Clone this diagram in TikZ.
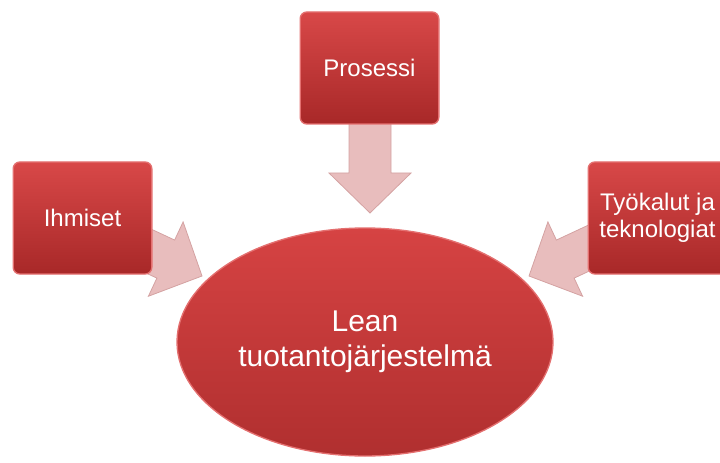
\documentclass[tikz,border=0pt]{standalone}
\usepackage{fontspec}
\setmainfont{Liberation Sans}
\usepackage{xcolor}
\usepackage{tikz}
\usetikzlibrary{calc,shapes.geometric}
\definecolor{boxtop}{HTML}{D84848}
\definecolor{boxbot}{HTML}{A82828}
\definecolor{boxrim}{HTML}{E47070}
\definecolor{elltop}{HTML}{D64343}
\definecolor{ellbot}{HTML}{B02F2F}
\definecolor{arrfill}{HTML}{E8BDBD}
\definecolor{arrline}{HTML}{D4A2A2}
\tikzset{
  topic/.style={draw=boxrim, line width=1pt, rounded corners=5pt,
    top color=boxtop, bottom color=boxbot,
    minimum width=104pt, minimum height=84pt, inner sep=2pt,
    text=white, align=center, font=\fontsize{18}{20}\selectfont},
  core/.style={ellipse, draw=boxrim, line width=1pt,
    top color=elltop, bottom color=ellbot,
    minimum width=282pt, minimum height=171pt,
    text=white, align=center, font=\fontsize{22.5}{26}\selectfont},
  blockarr/.style={fill=arrfill, draw=arrline, line width=0.6pt, line join=miter},
}
% block arrow from #1 to #2
\newcommand{\blockarrow}[2]{%
  \coordinate (ba-h) at ($(#2)!30pt!(#1)$);
  \draw[blockarr] ($(#1)!15.75pt!90:(#2)$) -- ($(ba-h)!15.75pt!90:(#2)$)
    -- ($(ba-h)!30.75pt!90:(#2)$) -- (#2)
    -- ($(ba-h)!30.75pt!-90:(#2)$) -- ($(ba-h)!15.75pt!-90:(#2)$)
    -- ($(#1)!15.75pt!-90:(#2)$) -- cycle;
}

\begin{document}
\begin{tikzpicture}[x=0.75pt, y=-0.75pt]
\useasboundingbox (0,0) rectangle (720,463);
% arrow ends
\coordinate (p-from) at (370,110);
\coordinate (p-tip) at (370,213);
\coordinate (i-from) at (112,234);
\coordinate (i-tip) at (202,276);
\coordinate (t-from) at (619,234);
\coordinate (t-tip) at (529,276);
\blockarrow{p-from}{p-tip}
\blockarrow{i-from}{i-tip}
\blockarrow{t-from}{t-tip}
% boxes
\node[topic] (prosessi) at (369.5,68) {Prosessi};
\node[topic] (ihmiset) at (82.5,218) {Ihmiset};
\node[topic] (tyokalut) at (657.5,218) {Työkalut ja\\teknologiat};
% centre
\node[core] (lean) at (365,342) {Lean\\tuotantojärjestelmä};
\end{tikzpicture}
\end{document}
